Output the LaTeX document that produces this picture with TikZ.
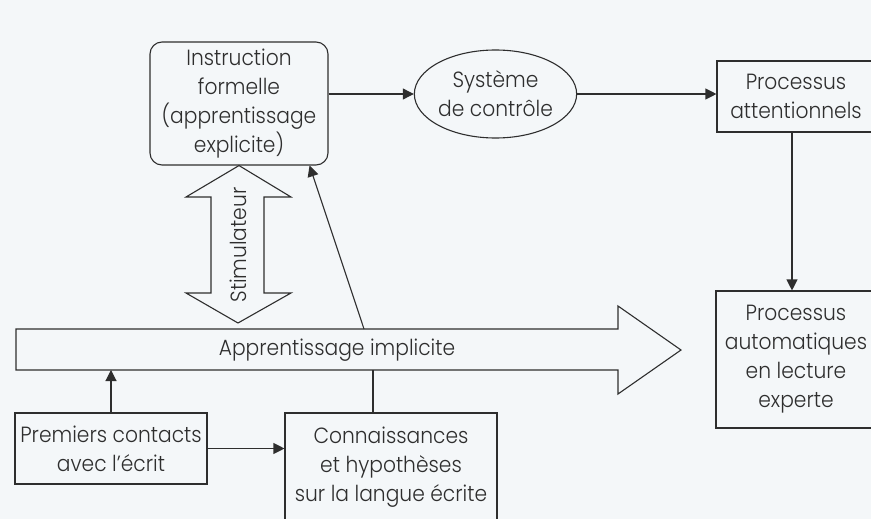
\documentclass[tikz,border=0pt]{standalone}
\usepackage{fontspec}
\setmainfont{Poppins Light}[FakeStretch=0.92]
\usetikzlibrary{arrows.meta,shapes.geometric}
\definecolor{paper}{HTML}{F4F7F9}
\definecolor{ink}{HTML}{2E2E2E}

\begin{document}
\begin{tikzpicture}[x=1pt,y=-1pt,
  box/.style={draw=ink,line width=1.1pt,align=center,inner sep=0pt},
  link/.style={draw=ink,line width=1.1pt},
  tip/.style={-{Triangle[length=11pt,width=11pt]}},
  font=\fontsize{22}{29}\selectfont,text=ink]
\fill[paper] (0,0) rectangle (871,519);
\useasboundingbox (0,0) rectangle (871,519);

\node[box,rounded corners=12pt,minimum width=178pt,minimum height=123pt] (instr) at (239,103.5)
    {Instruction\\formelle\\(apprentissage\\explicite)};
\node[box,ellipse,minimum width=161pt,minimum height=88pt] (ctrl) at (495.5,94) {Système\\de contrôle};
\node[box,minimum width=158pt,minimum height=71pt] (attn) at (796,96.5) {Processus\\attentionnels};
\node[box,minimum width=160pt,minimum height=137pt] (auto) at (796,359.5)
    {Processus\\automatiques\\en lecture\\experte};
\node[box,minimum width=192pt,minimum height=71pt] (prem) at (111,448.5) {Premiers contacts\\avec l'écrit};
\node[box,minimum width=212pt,minimum height=108pt] (conn) at (391,467)
    {Connaissances\\et hypothèses\\sur la langue écrite};

% grande fleche
\coordinate (shaftNW) at (16,329);
\coordinate (shaftSE) at (618,370);
\draw[link] (shaftNW) -- (shaftNW -| shaftSE) -- ++(0,-23) -- (681,350) -- (618,394)
    -- (shaftSE) -- (shaftNW |- shaftSE) -- cycle;
\node (impl) at (337,350) {Apprentissage implicite};

% double fleche
\draw[link] (instr.south) -- (291,197) -- (264,197) -- (264,293) -- (291,293) -- (238,323)
    -- (186,293) -- (211,293) -- (211,197) -- (186,197) -- cycle;
\node[rotate=90] (stim) at (238,245) {Stimulateur};

\draw[link,tip] (instr.east |- ctrl) -- (ctrl.west);
\draw[link,tip] (ctrl.east) -- (ctrl.east -| attn.west);
\draw[link,tip] (attn.south -| 792,0) -- (auto.north -| 792,0);
\draw[link,tip] (shaftNW -| 364,0) -- ([xshift=-19pt]instr.south east);
\draw[link,tip] (prem.north) -- (prem.north |- shaftSE);
\draw[link,tip] (prem.east) -- (prem.east -| conn.west);
\draw[link] ([xshift=-18pt]conn.north) -- ([xshift=-18pt]conn.north |- shaftSE);
\end{tikzpicture}
\end{document}
